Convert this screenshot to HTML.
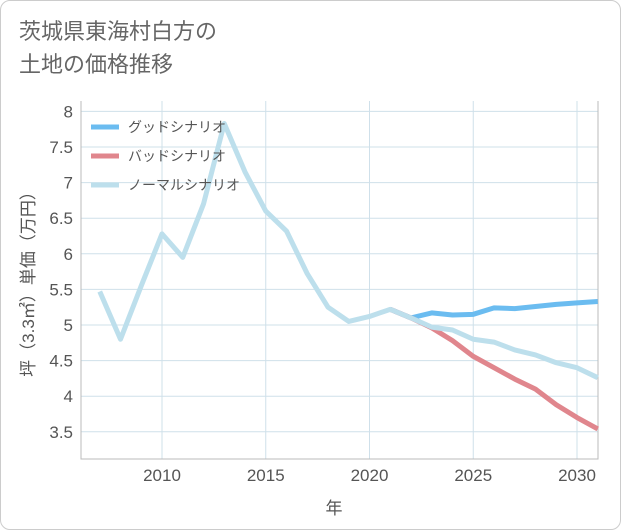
<!DOCTYPE html>
<html><head><meta charset="utf-8"><style>
body{margin:0;background:#fff;font-family:"Liberation Sans","Noto Sans CJK JP",sans-serif;}
#wrap{position:relative;width:619px;height:528px;border:1px solid #ccc;border-radius:10px;overflow:hidden;background:#fff}
.title{position:absolute;left:18px;top:14px;font-size:22px;line-height:33px;color:#666;}
</style></head><body>
<div id="wrap">
<div class="title">茨城県東海村白方の<br>土地の価格推移</div>
<svg id="c" width="621" height="530" style="position:absolute;left:0;top:0"></svg>
</div>
<script>
const years=[2007,2008,2009,2010,2011,2012,2013,2014,2015,2016,2017,2018,2019,2020,2021,2022,2023,2024,2025,2026,2027,2028,2029,2030,2031];
const normal=[5.47,4.8,5.55,6.28,5.95,6.7,7.83,7.15,6.6,6.32,5.72,5.25,5.05,5.12,5.22,5.1,4.97,4.93,4.8,4.76,4.65,4.58,4.47,4.4,4.26];
const fYears=[2021,2022,2023,2024,2025,2026,2027,2028,2029,2030,2031];
const good=[5.22,5.1,5.17,5.14,5.15,5.24,5.23,5.26,5.29,5.31,5.33];
const bad=[5.22,5.1,4.96,4.78,4.56,4.4,4.24,4.1,3.88,3.7,3.54];
const yTicks=[3.5,4,4.5,5,5.5,6,6.5,7,7.5,8];
const xTicks=[2010,2015,2020,2025,2030];
const L=80,R=597,T=100,B=458;
const x=v=>161+(v-2010)*20.75;
const y=v=>324-(v-5)*71.2;
const s=document.getElementById('c');const NS='http://www.w3.org/2000/svg';
function mk(t,a,p){const e=document.createElementNS(NS,t);for(const k in a)e.setAttribute(k,a[k]);(p||s).appendChild(e);return e;}
yTicks.forEach(v=>{const l=mk('line',{x1:L,x2:R,y1:y(v),y2:y(v),stroke:'#cfe0ea','stroke-width':1});


const t=mk('text',{x:L-8,y:y(v)+6,'text-anchor':'end','font-size':17,fill:'#555'});t.textContent=v;

});
xTicks.forEach(v=>{const l=mk('line',{x1:x(v),x2:x(v),y1:T,y2:B,stroke:'#cfe0ea','stroke-width':1});


const t=mk('text',{x:x(v),y:B+22,'text-anchor':'middle','font-size':17,fill:'#555'});t.textContent=v;

});
const ax=mk('path',{d:`M${L},${T}V${B}H${R}V${T}`,fill:'none',stroke:'#bbb','stroke-width':1});


function line(xs,ys,c,n){const p=mk('polyline',{points:xs.map((v,i)=>x(v)+','+y(ys[i])).join(' '),fill:'none',stroke:c,'stroke-width':5,'stroke-linejoin':'round'});

}
line(fYears,good,'#6bbcf0','good-scenario-line');
line(fYears,bad,'#e0868d','bad-scenario-line');
line(years,normal,'#bddfec','normal-scenario-line');
const leg=[['グッドシナリオ','#6bbcf0'],['バッドシナリオ','#e0868d'],['ノーマルシナリオ','#bddfec']];
leg.forEach((d,i)=>{const g=mk('g',{});


mk('line',{x1:90,x2:118,y1:126+i*29,y2:126+i*29,stroke:d[1],'stroke-width':5},g);
const t=mk('text',{x:127,y:131+i*29,'font-size':14,fill:'#555'},g);t.textContent=d[0];});
const yt=mk('text',{x:33,y:279,'text-anchor':'middle','font-size':17,fill:'#555',transform:'rotate(-90 33 279)'});yt.textContent='坪（3.3㎡）単価（万円）';


const xt=mk('text',{x:333,y:513,'text-anchor':'middle','font-size':17,fill:'#555'});xt.textContent='年';


</script>
</body></html>
